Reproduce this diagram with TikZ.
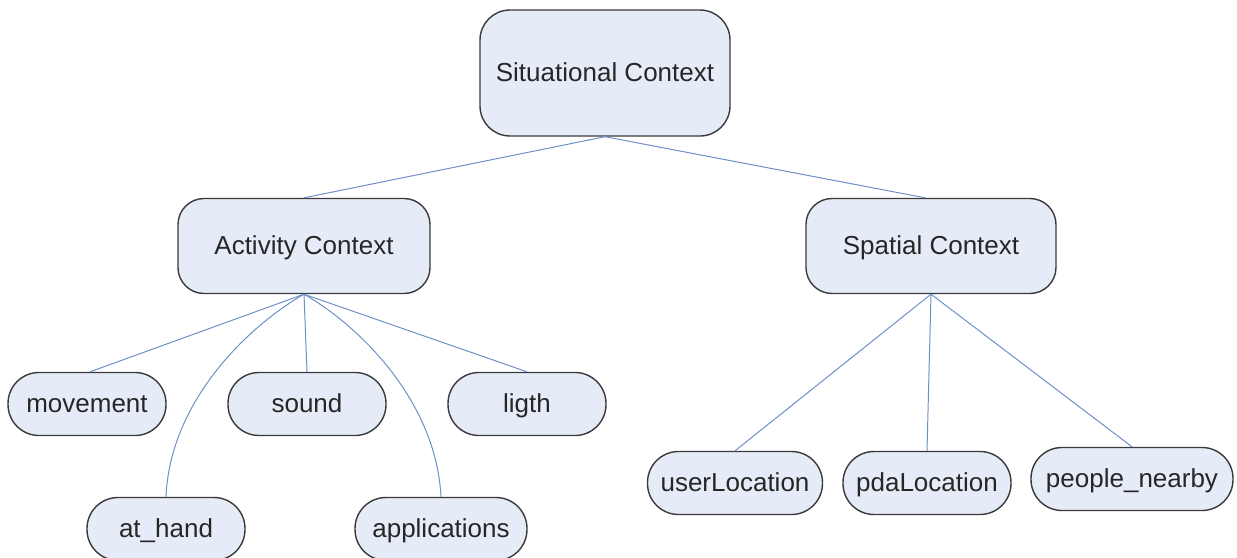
\documentclass[tikz,border=0pt]{standalone}
\usepackage{fontspec}
\setmainfont{Liberation Sans}
\definecolor{boxfill}{HTML}{E6ECF7}
\definecolor{boxline}{HTML}{3A3A3A}
\definecolor{edgeblue}{HTML}{6F8FC8}
\begin{document}
\begin{tikzpicture}[x=1pt,y=-1pt,
  box/.style={draw=boxline,fill=boxfill,line width=1.4pt,inner sep=0pt,
    font=\fontsize{26}{30}\selectfont,text=black!85,text height=21pt,text depth=4pt},
  bigbox/.style={box,minimum width=250pt,minimum height=95pt,rounded corners=26pt},
  leaf/.style={box,minimum width=158pt,minimum height=63pt,rounded corners=31pt},
  edge/.style={draw=edgeblue,line width=1pt}]
\useasboundingbox (0,0) rectangle (1237,557);
\node[bigbox,minimum height=126pt,rounded corners=30pt] (sit) at (605,73) {Situational Context};
\node[bigbox,minimum width=252pt] (act) at (304,246) {Activity Context};
\node[bigbox] (spa) at (931,246) {Spatial Context};
\node[leaf] (mov) at (87,404) {movement};
\node[leaf] (snd) at (307,404) {sound};
\node[leaf] (lig) at (527,404) {ligth};
\node[leaf] (ath) at (166,529) {at\_hand};
\node[leaf,minimum width=172pt] (app) at (441,529) {applications};
\node[leaf,minimum width=175pt] (usr) at (735,483) {userLocation};
\node[leaf,minimum width=168pt] (pda) at (927,483) {pdaLocation};
\node[leaf,minimum width=202pt] (ppl) at (1132,479) {people\_nearby};
\draw[edge] (sit.south) -- (act.north);
\draw[edge] (sit.south) -- (spa.north -| 925,0);
\draw[edge] (act.south) -- (mov.north -| 90,0);
\draw[edge] (act.south) .. controls (250,325) and (170,400) .. (ath.north);
\draw[edge] (act.south) -- (snd.north);
\draw[edge] (act.south) .. controls (358,325) and (436,400) .. (app.north);
\draw[edge] (act.south) -- (lig.north);
\draw[edge] (spa.south) -- (usr.north);
\draw[edge] (spa.south) -- (pda.north);
\draw[edge] (spa.south) -- (ppl.north);
\end{tikzpicture}
\end{document}
